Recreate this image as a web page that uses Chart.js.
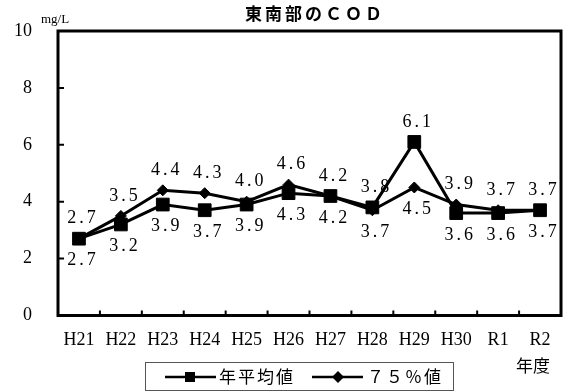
<!DOCTYPE html>
<html>
<head>
<meta charset="utf-8">
<script src="https://cdn.jsdelivr.net/npm/chart.js@4.4.1/dist/chart.umd.min.js"></script>
<style>
  body { margin: 0; background: #fff; }
</style>
</head>
<body>
<canvas id="codChart" width="563" height="392"></canvas>
<script>
// 年度ごとのデータ
const nendo = ["H21", "H22", "H23", "H24", "H25", "H26", "H27", "H28", "H29", "H30", "R1", "R2"];
const nenHeikin = [2.7, 3.2, 3.9, 3.7, 3.9, 4.3, 4.2, 3.8, 6.1, 3.6, 3.6, 3.7];
const pct75 = [2.7, 3.5, 4.4, 4.3, 4.0, 4.6, 4.2, 3.7, 4.5, 3.9, 3.7, 3.7];
const yTicks = [0, 2, 4, 6, 8, 10];

const serif = "'Liberation Serif', 'DejaVu Serif', serif";
const jp = "'Noto Sans CJK JP', 'Noto Sans', sans-serif";

function zeroPadding(s) {
    s.paddingLeft = 0;
    s.paddingRight = 0;
    s.paddingTop = 0;
    s.paddingBottom = 0;
}

// 枠・目盛・ラベル・凡例などを描く
const decoPlugin = {
    id: "deco",
    afterDraw(chart) {
        const ctx = chart.ctx;
        const area = chart.chartArea;
        const x = chart.scales.x;
        const y = chart.scales.y;
        ctx.save();

        // 枠
        ctx.strokeStyle = "#000";
        ctx.lineWidth = 3;
        ctx.strokeRect(area.left, area.top, area.right - area.left, area.bottom - area.top);

        // 内向きの目盛
        ctx.lineWidth = 2;
        ctx.beginPath();
        yTicks.forEach(v => {
            if (v === 0 || v === 10) return;
            const py = y.getPixelForValue(v);
            ctx.moveTo(area.left, py);
            ctx.lineTo(area.left + 6, py);
        });
        for (let i = 1; i < nendo.length; i++) {
            const px = (x.getPixelForTick(i - 1) + x.getPixelForTick(i)) / 2;
            ctx.moveTo(px, area.bottom);
            ctx.lineTo(px, area.bottom - 5);
        }
        ctx.stroke();

        // データラベル
        ctx.fillStyle = "#000";
        ctx.font = "18px " + serif;
        ctx.letterSpacing = "3px";
        ctx.textAlign = "center";
        ctx.textBaseline = "middle";
        chart.data.datasets.forEach((ds, di) => {
            const other = chart.data.datasets[1 - di].data;
            const meta = chart.getDatasetMeta(di);
            meta.data.forEach((pt, i) => {
                const v = ds.data[i];
                let above = v > other[i];
                if (v === other[i]) above = (di === 1);
                const ty = above ? pt.y - 20 : pt.y + 22;
                ctx.fillText(v.toFixed(1), pt.x + 4, ty);
            });
        });
        ctx.letterSpacing = "0px";

        // タイトル
        ctx.font = "bold 17px " + jp;
        ctx.letterSpacing = "3px";
        ctx.fillText("東南部のＣＯＤ", 315, 14);
        ctx.letterSpacing = "0px";

        // 単位
        ctx.font = "13px " + serif;
        ctx.fillText("mg/L", 55, 20);

        // 年度
        ctx.font = "17px " + jp;
        ctx.fillText("年度", 533, 366);

        // 凡例
        ctx.lineWidth = 1;
        ctx.strokeStyle = "#555";
        ctx.strokeRect(145.5, 362.5, 308, 28);
        ctx.strokeStyle = "#000";
        ctx.lineWidth = 2.5;
        ctx.beginPath();
        ctx.moveTo(165, 377);
        ctx.lineTo(216, 377);
        ctx.moveTo(312, 377);
        ctx.lineTo(363, 377);
        ctx.stroke();
        ctx.fillRect(185, 372, 10, 10);
        ctx.beginPath();
        ctx.moveTo(338, 371);
        ctx.lineTo(344, 377);
        ctx.lineTo(338, 383);
        ctx.lineTo(332, 377);
        ctx.closePath();
        ctx.fill();
        ctx.font = "17px " + jp;
        ctx.textAlign = "left";
        ctx.letterSpacing = "2px";
        ctx.fillText(chart.data.datasets[0].label, 219, 377);
        ctx.fillText(chart.data.datasets[1].label, 367, 377);
        ctx.restore();
    }
};

new Chart(document.getElementById("codChart"), {
    type: "line",
    data: {
        labels: nendo,
        datasets: [
            {
                label: "年平均値",
                data: nenHeikin,
                borderColor: "#000",
                backgroundColor: "#000",
                borderWidth: 3,
                pointStyle: "rect",
                pointRadius: 9,
                pointBorderWidth: 1,
                tension: 0
            },
            {
                label: "７５％値",
                data: pct75,
                borderColor: "#000",
                backgroundColor: "#000",
                borderWidth: 3,
                pointStyle: "rectRot",
                pointRadius: 5.5,
                pointBorderWidth: 1,
                tension: 0
            }
        ]
    },
    options: {
        responsive: false,
        animation: false,
        layout: { autoPadding: false, padding: { top: 31, right: 2, left: 0, bottom: 0 } },
        plugins: {
            legend: { display: false },
            title: { display: false },
            tooltip: { enabled: false }
        },
        scales: {
            x: {
                offset: true,
                grid: { display: false, drawTicks: false },
                border: { display: false },
                ticks: {
                    color: "#000",
                    font: { family: serif, size: 18 },
                    padding: 14,
                    maxRotation: 0,
                    autoSkip: false
                },
                afterFit(scale) {
                    scale.height = 76.5;
                    zeroPadding(scale);
                }
            },
            y: {
                min: 0,
                max: 10,
                afterBuildTicks(scale) { scale.ticks = yTicks.map(v => ({ value: v })); },
                grid: { display: false, drawTicks: false },
                border: { display: false },
                ticks: {
                    color: "#000",
                    font: { family: serif, size: 18 },
                    padding: 26
                },
                afterFit(scale) {
                    scale.width = 58;
                    zeroPadding(scale);
                }
            }
        }
    },
    plugins: [decoPlugin]
});
</script>
</body>
</html>
